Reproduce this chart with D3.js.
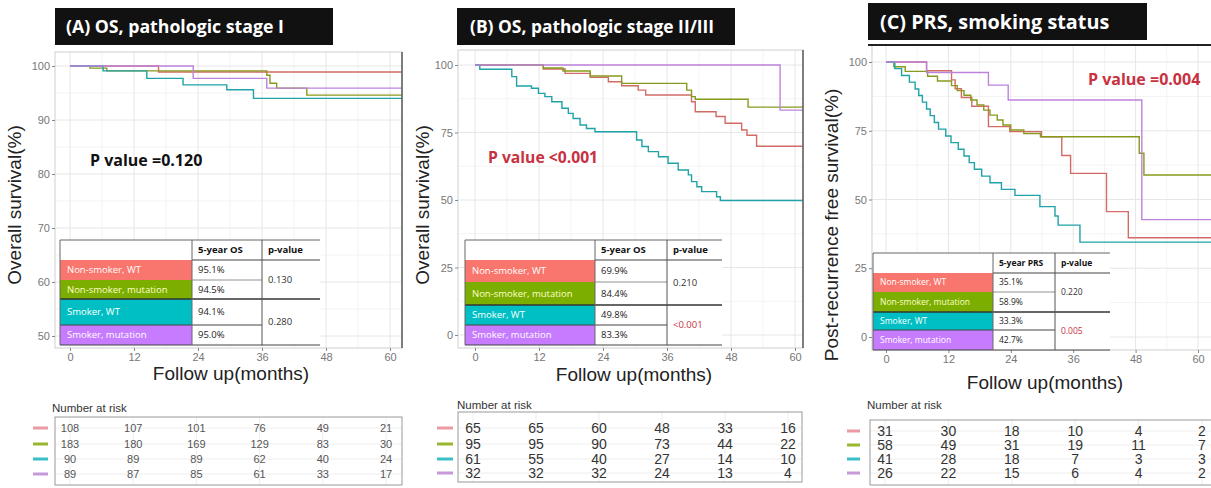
<!DOCTYPE html>
<html><head><meta charset="utf-8">
<script src="https://cdn.jsdelivr.net/npm/d3@7/dist/d3.min.js"></script>
<style>body{margin:0;background:#fff;} svg{display:block;}</style>
</head><body><svg id="c" width="1211" height="488"></svg>
<script>
// ---------------- DATA ----------------
const groups = ["Non-smoker, WT","Non-smoker, mutation","Smoker, WT","Smoker, mutation"];
const monthTicks = [0,12,24,36,48,60];

// Panel A: OS, pathologic stage I
const yTicksA = [50,60,70,80,90,100];
const osA_nsWT  = [[0,100],[16.6,98.9]];
const osA_nsMut = [[0,100],[3.75,99.6],[6.9,99.1],[36.9,98.3],[37.5,96.8],[38.75,95.9],[44.4,94.6]];
const osA_sWT   = [[0,100],[6.2,99.1],[14.4,97.7],[21.2,96.5],[29.4,95.6],[34.4,94.0]];
const osA_sMut  = [[0,100],[23.1,97.7],[36.9,95.9]];
const fiveYrA = ["95.1%","94.5%","94.1%","95.0%"];
const pTableA = ["0.130","0.280"];
const riskA = [[108,107,101,76,49,21],[183,180,169,129,83,30],[90,89,89,62,40,24],[89,87,85,61,33,17]];

// Panel B: OS, pathologic stage II/III
const yTicksB = [0,25,50,75,100];
const osB_nsWT  = [[0,100],[12.8,98.5],[16.9,96.9],[21.6,95.4],[25,93.8],[27.5,92.3],[30.6,90.7],[32,88.9],[40.6,86.4],[41.3,82.7],[45.2,80.9],[46.9,78.4],[50,75.9],[51,74.0],[52.8,69.9]];
const osB_nsMut = [[0,100],[12.8,98.9],[16.5,97.8],[21.6,95.9],[27.5,93.2],[39.7,90.7],[40.6,88.3],[41.3,87.3],[51.2,84.4]];
const osB_sWT   = [[0,100],[0.9,98.4],[6.9,95.7],[7.8,92.2],[10.6,91.4],[11.9,89.5],[13.1,88.3],[14.4,86.4],[16.3,84.0],[17.5,82.1],[18.4,80.2],[19.7,77.8],[20.9,76.5],[22.5,75.3],[30.3,72.2],[31.3,69.8],[32.5,67.9],[34.4,66.0],[36.2,63.6],[38.1,61.1],[40.0,59.3],[40.6,56.8],[41.6,54.9],[42.5,53.1],[45.3,51.2],[46.0,49.8]];
const osB_sMut  = [[0,100],[57.2,83.3]];
const fiveYrB = ["69.9%","84.4%","49.8%","83.3%"];
const pTableB = ["0.210","<0.001"];
const riskB = [[65,65,60,48,33,16],[95,95,90,73,44,22],[61,55,40,27,14,10],[32,32,32,24,13,4]];

// Panel C: PRS, smoking status
const yTicksC = [0,25,50,75,100];
const prsC_nsWT  = [[0,100],[7.8,96.8],[12.6,93.5],[13.3,90.3],[14.5,87.1],[16.5,83.9],[19.7,76.5],[23.8,74.7],[29.9,72.8],[33.8,66.0],[35.5,59.5],[42.4,45.6],[46.6,36.1]];
const prsC_nsMut = [[0,100],[1.5,98.3],[3.7,96.6],[8,94.8],[9.9,93.1],[12.6,91.4],[13.7,89.6],[15,87.9],[16.3,86.2],[17.5,84.4],[18.8,82.5],[20,80.7],[21.4,78.9],[22.5,77.1],[24,75.3],[26.5,74.0],[29.7,72.8],[48.7,66.8],[49.6,58.9]];
const prsC_sWT   = [[0,100],[1.7,97.6],[3,95.1],[4.5,92.7],[5.6,90.2],[6.3,87.8],[7,85.4],[7.8,82.9],[8.5,80.5],[9.3,78.0],[10.1,75.6],[11.5,73.1],[12.5,70.7],[13.9,68.3],[15,65.8],[16,63.4],[17,61.0],[18.4,58.5],[20,56.1],[22.2,53.7],[24.8,51.5],[29.6,47.4],[32.5,44.0],[33.1,40.7],[37.3,34.5]];
const prsC_sMut  = [[0,100],[7.8,96.2],[19.7,91.6],[23.5,86.2],[49.2,42.7]];
const fiveYrC = ["35.1%","58.9%","33.3%","42.7%"];
const pTableC = ["0.220","0.005"];
const riskC = [[31,30,18,10,4,2],[58,49,31,19,11,7],[41,28,18,7,3,3],[26,22,15,6,4,2]];

// ---------------- STYLE ----------------
const lineColors = ["#d26b66","#889a1e","#1fa3a8","#bd82dc"];
const fillColors = ["#F8766D","#7CAE00","#00BFC4","#C77CFF"];
const labelText  = ["#ffffff","#ffffcc","#ffffff","#ffffff"];
const swatchColors = ["#e99aa2","#98b62e","#3bbfc6","#c69ada"];
const pRed = "#c8313f";
const sans = "'Open Sans', 'DejaVu Sans', sans-serif";
const arial = "'Liberation Sans', Arial, sans-serif";

const svg = d3.select("#c");
const defs = svg.append("defs");

const panels = [
  { id:"A", title:"(A) OS, pathologic stage I", titleBox:[55,8,333,45], titleX:66, titleY:33, titleFs:17.7,
    curves:[osA_nsWT,osA_nsMut,osA_sWT,osA_sMut], yTicks:yTicksA, yDom:[50,100], yRng:[336,66],
    xRng:[70,390], rect:[55,52,402,348], yTitle:"Overall survival(%)", yTitleX:21, yTitleY:205,
    xTitleX:231, xTitleY:380,
    pText:"P value =0.120", pColor:"#111", pX:90, pY:166, pFs:16,
    table:{cols:[60,192,262,320], rows:[240,260,280,299,325,345], head:"5-year OS", vals:fiveYrA, p:pTableA, pCol:["#333","#333"], fs:9.5},
    risk:{vals:riskA, rng:[70,386], box:[55,417,402,485], rowsY:[428,444,459,474], lblX:52, lblY:412, fs:11, col:"#555", sw:[33,48]} },
  { id:"B", title:"(B) OS, pathologic stage II/III", titleBox:[457,8,735,45], titleX:470, titleY:33, titleFs:17.4,
    curves:[osB_nsWT,osB_nsMut,osB_sWT,osB_sMut], yTicks:yTicksB, yDom:[0,100], yRng:[335,65],
    xRng:[475,795], rect:[458,50,803,348], yTitle:"Overall survival(%)", yTitleX:429, yTitleY:205,
    xTitleX:634, xTitleY:381,
    pText:"P value <0.001", pColor:pRed, pX:488, pY:163, pFs:15.7,
    table:{cols:[465,595,667,722], rows:[240,260,282,305,325,345], head:"5-year OS", vals:fiveYrB, p:pTableB, pCol:["#333",pRed], fs:9.5},
    risk:{vals:riskB, rng:[473,788], box:[458,412,802,482], rowsY:[428,444,459,473], lblX:457, lblY:409, fs:14, col:"#333", sw:[437,453]} },
  { id:"C", title:"(C) PRS, smoking status", titleBox:[868,3,1147,40], titleX:880, titleY:29, titleFs:19.8,
    curves:[prsC_nsWT,prsC_nsMut,prsC_sWT,prsC_sMut], yTicks:yTicksC, yDom:[0,100], yRng:[337,62],
    xRng:[886,1198], rect:[872,45,1216,350], yTitle:"Post-recurrence free survival(%)", yTitleX:838, yTitleY:225,
    xTitleX:1045, xTitleY:389,
    pText:"P value =0.004", pColor:pRed, pX:1088, pY:85, pFs:16,
    table:{cols:[873,993,1055,1110], rows:[253,273,292,312,330,350], head:"5-year PRS", vals:fiveYrC, p:pTableC, pCol:["#333",pRed], fs:8.5},
    risk:{vals:riskC, rng:[885,1202], box:[870,420,1216,485], rowsY:[431,445,459,473], lblX:867, lblY:409, fs:14, col:"#333", sw:[847,860]} }
];

panels.forEach(cfg => {
  const g = svg.append("g");
  const x = d3.scaleLinear().domain([0,60]).range(cfg.xRng);
  const y = d3.scaleLinear().domain(cfg.yDom).range(cfg.yRng);
  const [px0,py0,px1,py1] = cfg.rect;

  defs.append("clipPath").attr("id","clip"+cfg.id)
    .append("rect").attr("x",px0).attr("y",py0).attr("width",px1-px0).attr("height",py1-py0);

  // panel background & grid
  g.append("rect").attr("x",px0).attr("y",py0).attr("width",px1-px0).attr("height",py1-py0).attr("fill","#fff");
  const xMinor = monthTicks.map(t=>t+6);
  const yStep = cfg.yTicks[1]-cfg.yTicks[0];
  const yMinor = cfg.yTicks.map(t=>t+yStep/2);
  const grid = g.append("g").attr("clip-path",`url(#clip${cfg.id})`);
  grid.selectAll(".xm").data(xMinor).join("line").attr("x1",d=>x(d)).attr("x2",d=>x(d)).attr("y1",py0).attr("y2",py1).attr("stroke","#f3f3f3").attr("stroke-width",1);
  grid.selectAll(".ym").data(yMinor).join("line").attr("y1",d=>y(d)).attr("y2",d=>y(d)).attr("x1",px0).attr("x2",px1).attr("stroke","#f3f3f3").attr("stroke-width",1);
  grid.selectAll(".xM").data(monthTicks).join("line").attr("x1",d=>x(d)).attr("x2",d=>x(d)).attr("y1",py0).attr("y2",py1).attr("stroke","#e6e6e6").attr("stroke-width",1);
  grid.selectAll(".yM").data(cfg.yTicks).join("line").attr("y1",d=>y(d)).attr("y2",d=>y(d)).attr("x1",px0).attr("x2",px1).attr("stroke","#e6e6e6").attr("stroke-width",1);

  // curves
  const line = d3.line().x(d=>x(d[0])).y(d=>y(d[1])).curve(d3.curveStepAfter);
  const cg = g.append("g").attr("clip-path",`url(#clip${cfg.id})`);
  cfg.curves.forEach((c,i) => {
    const pts = c.concat([[64, c[c.length-1][1]]]);
    cg.append("path").attr("d",line(pts)).attr("fill","none")
      .attr("stroke",lineColors[i]).attr("stroke-width",1.4);
  });

  // border
  g.append("rect").attr("x",px0).attr("y",py0).attr("width",px1-px0).attr("height",py1-py0)
    .attr("fill","none").attr("stroke","#cfcfcf").attr("stroke-width",1);
  if (cfg.id!=="C") {
    g.append("line").attr("x1",px1).attr("x2",px1).attr("y1",py0).attr("y2",py1).attr("stroke","#444").attr("stroke-width",1.3);
  } else {
    g.append("line").attr("x1",px0-4).attr("x2",1211).attr("y1",py0).attr("y2",py0).attr("stroke","#222").attr("stroke-width",2);
  }

  // axes
  const ay = g.append("g").attr("transform",`translate(${px0},0)`)
    .call(d3.axisLeft(y).tickValues(cfg.yTicks).tickSize(3).tickPadding(2).tickFormat(d3.format("d")));
  ay.select(".domain").remove();
  ay.selectAll("line").attr("stroke","#888");
  ay.selectAll("text").attr("fill","#777").style("font-family",arial).style("font-size","11px");
  const ax = g.append("g").attr("transform",`translate(0,${py1})`)
    .call(d3.axisBottom(x).tickValues(monthTicks).tickSize(3).tickPadding(2));
  ax.select(".domain").remove();
  ax.selectAll("line").attr("stroke","#888");
  ax.selectAll("text").attr("fill","#777").style("font-family",arial).style("font-size","11px");

  // axis titles
  g.append("text").attr("x",cfg.xTitleX).attr("y",cfg.xTitleY).attr("text-anchor","middle")
    .style("font-family",arial).style("font-size","19px").attr("fill","#222").text("Follow up(months)");
  g.append("text").attr("transform",`translate(${cfg.yTitleX},${cfg.yTitleY}) rotate(-90)`).attr("text-anchor","middle")
    .style("font-family",arial).style("font-size","19px").attr("fill","#222").text(cfg.yTitle);

  // title box
  const tb = cfg.titleBox;
  g.append("rect").attr("x",tb[0]).attr("y",tb[1]).attr("width",tb[2]-tb[0]).attr("height",tb[3]-tb[1]).attr("fill","#111");
  g.append("text").attr("x",cfg.titleX).attr("y",cfg.titleY).attr("fill","#fff")
    .style("font-family",sans).style("font-weight","700").style("font-size",cfg.titleFs+"px").text(cfg.title);

  // p value annotation
  g.append("text").attr("x",cfg.pX).attr("y",cfg.pY).attr("fill",cfg.pColor)
    .style("font-family",sans).style("font-weight","700").style("font-size",cfg.pFs+"px").text(cfg.pText);

  // summary table
  const t = cfg.table, tc = t.cols, tr = t.rows;
  const tg = g.append("g");
  tg.append("rect").attr("x",tc[0]).attr("y",tr[0]).attr("width",tc[3]-tc[0]).attr("height",tr[5]-tr[0]).attr("fill","#fff");
  groups.forEach((gr,i) => {
    tg.append("rect").attr("x",tc[0]).attr("y",tr[i+1]).attr("width",tc[1]-tc[0]).attr("height",tr[i+2]-tr[i+1]).attr("fill",fillColors[i]);
    tg.append("text").attr("x",tc[0]+7).attr("y",(tr[i+1]+tr[i+2])/2).attr("dy","0.35em").attr("fill",labelText[i])
      .style("font-family",sans).style("font-size",t.fs+"px").text(gr);
    tg.append("text").attr("x",tc[1]+6).attr("y",(tr[i+1]+tr[i+2])/2).attr("dy","0.35em").attr("fill","#222")
      .style("font-family",sans).style("font-size",t.fs+"px").text(t.vals[i]);
  });
  [0,1].forEach(k => {
    tg.append("text").attr("x",tc[2]+6).attr("y",(tr[1+2*k]+tr[3+2*k])/2).attr("dy","0.35em").attr("fill",t.pCol[k])
      .style("font-family",sans).style("font-size",t.fs+"px").text(t.p[k]);
  });
  tg.append("text").attr("x",tc[1]+6).attr("y",(tr[0]+tr[1])/2).attr("dy","0.35em").attr("fill","#111")
    .style("font-family",sans).style("font-weight","700").style("font-size",t.fs+"px").text(t.head);
  tg.append("text").attr("x",tc[2]+6).attr("y",(tr[0]+tr[1])/2).attr("dy","0.35em").attr("fill","#111")
    .style("font-family",sans).style("font-weight","700").style("font-size",t.fs+"px").text("p-value");
  const L = (x1,y1,x2,y2,c,w) => tg.append("line").attr("x1",x1).attr("y1",y1).attr("x2",x2).attr("y2",y2).attr("stroke",c).attr("stroke-width",w);
  L(tc[0],tr[0],tc[3],tr[0],"#666",1);
  L(tc[1],tr[1],tc[3],tr[1],"#444",1.2);
  L(tc[1],tr[2],tc[2],tr[2],"#777",0.8);
  L(tc[0],tr[3],tc[3],tr[3],"#333",1.5);
  L(tc[0],tr[4],tc[2],tr[4],"#444",1);
  L(tc[0],tr[5],tc[3],tr[5],"#444",1.2);
  L(tc[0],tr[0],tc[0],tr[5],"#666",1);
  L(tc[1],tr[0],tc[1],tr[5],"#666",1);
  L(tc[2],tr[0],tc[2],tr[5],"#555",1);

  // risk table
  const r = cfg.risk;
  const rx = d3.scaleLinear().domain([0,60]).range(r.rng);
  const rg = g.append("g");
  rg.append("text").attr("x",r.lblX).attr("y",r.lblY).attr("fill","#333")
    .style("font-family",arial).style("font-size","11.5px").text("Number at risk");
  rg.selectAll(".rv").data(monthTicks).join("line").attr("x1",d=>rx(d)).attr("x2",d=>rx(d))
    .attr("y1",r.box[1]).attr("y2",r.box[3]).attr("stroke","#eeeeee");
  rg.selectAll(".rh").data(r.rowsY).join("line").attr("y1",d=>d).attr("y2",d=>d)
    .attr("x1",r.box[0]).attr("x2",r.box[2]).attr("stroke","#eeeeee");
  rg.append("rect").attr("x",r.box[0]).attr("y",r.box[1]).attr("width",r.box[2]-r.box[0]).attr("height",r.box[3]-r.box[1])
    .attr("fill","none").attr("stroke","#999").attr("stroke-width",1);
  r.vals.forEach((row,i) => {
    rg.append("line").attr("x1",r.sw[0]).attr("x2",r.sw[1]).attr("y1",r.rowsY[i]).attr("y2",r.rowsY[i])
      .attr("stroke",swatchColors[i]).attr("stroke-width",3);
    rg.selectAll(null).data(row).join("text").attr("x",(d,j)=>rx(monthTicks[j])).attr("y",r.rowsY[i]).attr("dy","0.35em")
      .attr("text-anchor","middle").attr("fill",r.col).style("font-family",arial).style("font-size",r.fs+"px").text(d=>d);
  });
});
</script></body></html>
